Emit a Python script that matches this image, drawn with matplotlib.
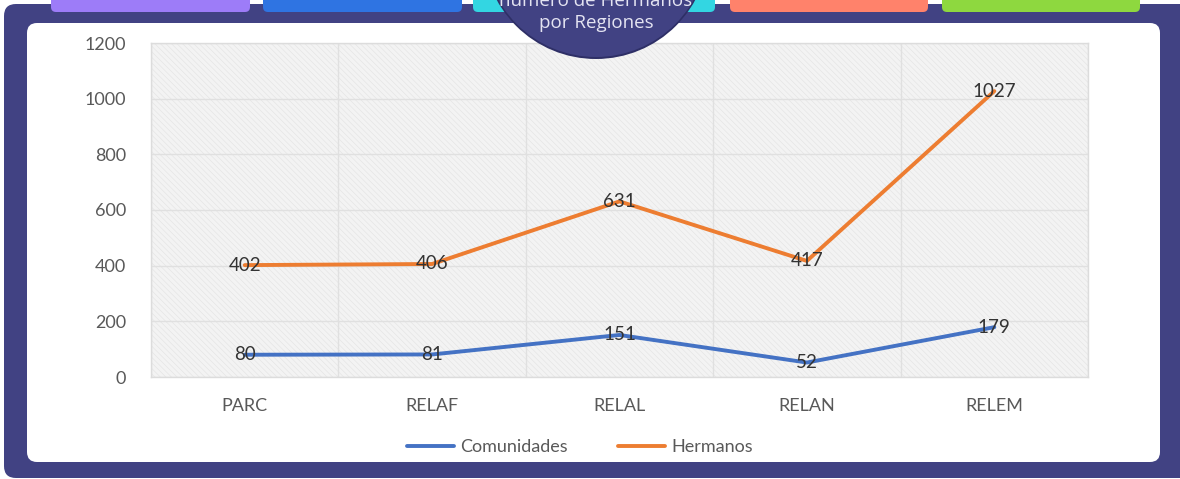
import matplotlib
matplotlib.use("Agg")
import matplotlib.pyplot as plt
from matplotlib.patches import FancyBboxPatch, Circle, Rectangle

# ---- data ----
regions = ["PARC", "RELAF", "RELAL", "RELAN", "RELEM"]
comunidades = [80, 81, 151, 52, 179]
hermanos = [402, 406, 631, 417, 1027]
series_names = ["Comunidades", "Hermanos"]
yticks = [0, 200, 400, 600, 800, 1000, 1200]
title_lines = ["número de Hermanos", "por Regiones"]

W, H = 1180, 479
NAVY = "#414283"
BLUE = "#4472c4"
ORANGE = "#ed7d31"
FONT = "Lato"
plt.rcParams["hatch.linewidth"] = 0.4

fig = plt.figure(figsize=(W / 100, H / 100), dpi=100)
fig.patch.set_facecolor("white")

# background decoration axes (pixel coords, y down)
bg = fig.add_axes([0, 0, 1, 1], zorder=0)
bg.set_xlim(0, W)
bg.set_ylim(H, 0)
bg.axis("off")

bg.add_patch(FancyBboxPatch((4, 4), 1200, 474, boxstyle="round,pad=0,rounding_size=12",
                            facecolor=NAVY, edgecolor="none"))
bg.add_patch(FancyBboxPatch((27, 23), 1133, 439, boxstyle="round,pad=0,rounding_size=10",
                            facecolor="white", edgecolor="none"))
tabs = [(51, 250, "#9d7cf8"), (263, 462, "#2f74e2"), (473, 715, "#33d6e2"),
        (730, 928, "#ff826b"), (942, 1140, "#8ed83f")]
for x0, x1, c in tabs:
    bg.add_patch(FancyBboxPatch((x0, -20), x1 - x0, 32, boxstyle="round,pad=0,rounding_size=5",
                                facecolor=c, edgecolor="none"))

# main plot axes
left, right, top, bottom = 151, 1088, 43, 377
ax = fig.add_axes([left / W, (H - bottom) / H, (right - left) / W, (bottom - top) / H], zorder=1)
ax.set_facecolor("#f3f3f3")
ax.add_patch(Rectangle((0, 0), 1, 1, transform=ax.transAxes, facecolor="none",
                       edgecolor="#e2e2e2", hatch="\\\\\\\\\\\\", linewidth=0, zorder=0))
x = list(range(len(regions)))
ax.set_xlim(-0.5, len(regions) - 0.5)
ax.set_ylim(0, 1200)
ax.set_yticks(yticks)
ax.set_xticks(x)
ax.set_xticklabels(regions)
ax.set_xticks([i + 0.5 for i in range(-1, len(regions))] + x, minor=True)
ax.grid(True, which="major", axis="y", color="#e0e0e0", linewidth=1)
ax.grid(True, which="minor", axis="x", color="#e0e0e0", linewidth=1)
ax.set_axisbelow(True)
ax.tick_params(which="both", length=0)
ax.tick_params(axis="y", pad=18, labelsize=13, labelcolor="#595959")
ax.tick_params(axis="x", pad=15, labelsize=13, labelcolor="#595959")
for lab in ax.get_xticklabels() + ax.get_yticklabels():
    lab.set_fontfamily(FONT)
for s in ax.spines.values():
    s.set_color("#dcdcdc")
    s.set_linewidth(1)

l1, = ax.plot(x, comunidades, color=BLUE, linewidth=2.8, solid_capstyle="round", zorder=3)
l2, = ax.plot(x, hermanos, color=ORANGE, linewidth=2.8, solid_capstyle="round", zorder=3)
for xs, vals in ((x, comunidades), (x, hermanos)):
    for xi, v in zip(xs, vals):
        ax.text(xi, v, str(v), ha="center", va="center", fontsize=13.5, color="#333333",
                fontfamily=FONT, zorder=4)

fig.legend([l1, l2], series_names, loc="center", bbox_to_anchor=(580 / W, (H - 447) / H),
           ncol=2, frameon=False, handlelength=2.6, handletextpad=0.35, columnspacing=2.8,
           prop={"family": FONT, "size": 13}, labelcolor="#595959")

# overlay: title circle
ov = fig.add_axes([0, 0, 1, 1], zorder=2)
ov.set_xlim(0, W)
ov.set_ylim(H, 0)
ov.axis("off")
ov.patch.set_alpha(0)
ov.add_patch(Circle((596, -54), 113, facecolor="#2e2f66", edgecolor="none"))
ov.add_patch(Circle((596, -55), 112, facecolor=NAVY, edgecolor="none"))
ov.text(596, 1, title_lines[0], ha="center", va="center", fontsize=13.5,
        color="#e4e4f2", fontfamily="Open Sans")
ov.text(596, 23, title_lines[1], ha="center", va="center", fontsize=13.5,
        color="#e4e4f2", fontfamily="Open Sans")

fig.savefig("out.png", dpi=100)
